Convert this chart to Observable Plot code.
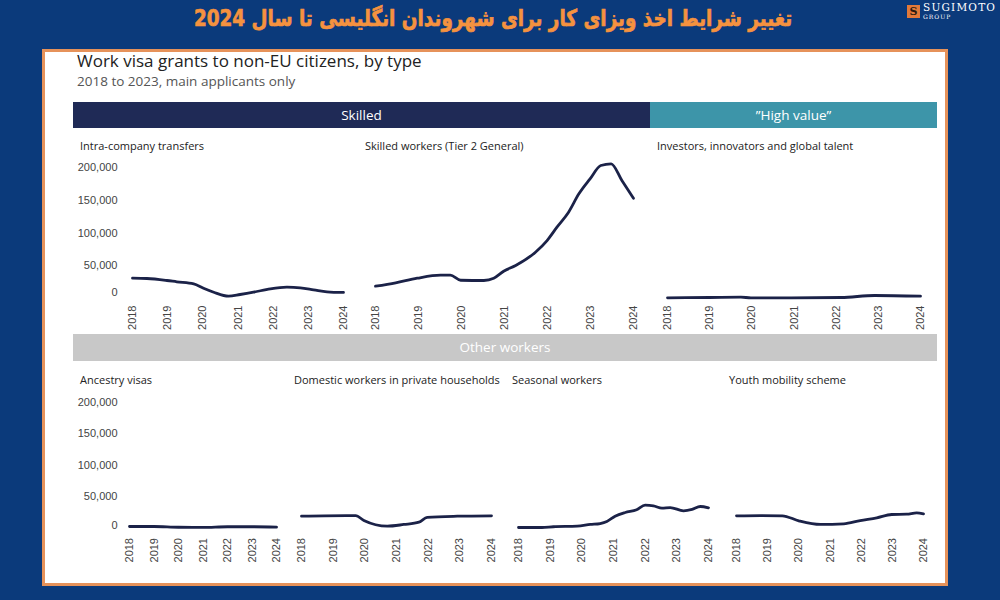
<!DOCTYPE html>
<html><head><meta charset="utf-8">
<script src="https://cdn.jsdelivr.net/npm/d3@7"></script>
<script src="https://cdn.jsdelivr.net/npm/@observablehq/plot@0.6"></script>
<style>
html,body{margin:0;padding:0;}
body{width:1000px;height:600px;background:#0b3a7b;position:relative;overflow:hidden;font-family:"Open Sans",sans-serif;}
.abs{position:absolute;white-space:nowrap;}
#fa-title{left:0;width:986px;top:5px;text-align:center;direction:rtl;font-family:"DejaVu Sans";font-weight:bold;font-size:23px;color:#f5923f;-webkit-text-stroke:0.7px #f5923f;transform:scaleX(0.80);transform-origin:493px 0;}
#logo-box{left:907px;top:5px;width:13px;height:13px;background:#e2793a;color:#2a1a10;font:bold 11px/13px "DejaVu Serif";text-align:center;}
#logo-name{left:923px;top:1px;font-family:"DejaVu Serif";font-size:10.5px;letter-spacing:1.2px;color:#fff;}
#logo-group{left:923px;top:13px;font-family:"DejaVu Serif";font-size:6px;letter-spacing:1px;color:#fff;}
#panel{left:42px;top:49px;width:906px;height:537px;box-sizing:border-box;background:#fff;border:3px solid #e6925a;}
#title{left:77px;top:49px;font-size:17px;color:#222;}
#subtitle{left:77px;top:72px;font-size:13.5px;color:#555;}
.bar{height:26px;line-height:26px;color:#fff;text-align:center;font-size:13.5px;}
.ptitle{font-size:11px;color:#222;}
</style></head><body>
<div id="fa-title" class="abs">تغییر شرایط اخذ ویزای کار برای شهروندان انگلیسی تا سال 2024</div>
<div id="logo-box" class="abs">S</div>
<div id="logo-name" class="abs">SUGIMOTO</div>
<div id="logo-group" class="abs">GROUP</div>
<div id="panel" class="abs"></div>
<div id="title" class="abs">Work visa grants to non-EU citizens, by type</div>
<div id="subtitle" class="abs">2018 to 2023, main applicants only</div>
<script>
// ---- data ----
const groupSkilled = "Skilled";
const groupHighValue = "”High value”";
const groupOther = "Other workers";

const yTicks = [0, 50000, 100000, 150000, 200000];
const yearTicks = [2018, 2019, 2020, 2021, 2022, 2023, 2024];

const ictTitle = "Intra-company transfers";
const ictYears = [2018.0, 2018.41, 2018.98, 2019.26, 2019.74, 2020.02, 2020.31, 2020.73, 2021.06, 2021.44, 2021.92, 2022.39, 2022.77, 2023.15, 2023.53, 2024.0];
const ictValues = [31000, 30500, 27500, 25500, 22400, 15700, 9600, 3500, 6100, 9600, 14800, 17300, 16300, 13300, 10200, 9200];

const skilledTitle = "Skilled workers (Tier 2 General)";
const skilledYears = [2018.0, 2018.47, 2018.97, 2019.51, 2019.74, 2019.98, 2020.52, 2020.75, 2020.98, 2021.26, 2021.72, 2021.99, 2022.22, 2022.49, 2022.73, 2022.99, 2023.24, 2023.48, 2023.73, 2024.0];
const skilledValues = [18800, 24000, 31000, 35600, 35600, 27900, 27500, 31000, 41700, 50400, 70700, 88500, 108900, 131800, 159800, 182700, 203000, 205600, 180200, 153100];

const investorsTitle = "Investors, innovators and global talent";
const investorsYears = [2018.0, 2019.0, 2019.74, 2019.98, 2020.93, 2022.12, 2022.91, 2024.0];
const investorsValues = [1000, 1500, 2000, 1000, 1000, 1500, 4600, 3500];

const ancestryTitle = "Ancestry visas";
const ancestryYears = [2018.0, 2019.0, 2020.0, 2021.0, 2022.0, 2023.0, 2024.0];
const ancestryValues = [2400, 2400, 1200, 1000, 2000, 2000, 1400];

const domesticTitle = "Domestic workers in private households";
const domesticYears = [2018.0, 2018.71, 2019.71, 2019.97, 2020.71, 2021.23, 2021.71, 2021.97, 2022.92, 2024.0];
const domesticValues = [18700, 19400, 19800, 11900, 2900, 5600, 9200, 16700, 18700, 19400];

const seasonalTitle = "Seasonal workers";
const seasonalYears = [2018.0, 2018.74, 2019.1, 2019.85, 2020.27, 2020.58, 2020.79, 2021.05, 2021.37, 2021.73, 2022.0, 2022.26, 2022.53, 2022.79, 2023.21, 2023.48, 2023.74, 2024.0];
const seasonalValues = [800, 800, 2000, 2900, 5600, 7100, 10300, 18700, 24600, 28900, 36200, 35200, 31400, 32500, 27300, 29400, 34100, 32100];

const youthTitle = "Youth mobility scheme";
const youthYears = [2018.0, 2018.78, 2019.47, 2020.0, 2020.69, 2021.44, 2021.97, 2022.5, 2022.98, 2023.46, 2023.78, 2024.0];
const youthValues = [19400, 19800, 19400, 11400, 5600, 6700, 11900, 16200, 21400, 21900, 24100, 22500];

// ---- layout ----
function addDiv(cls, text, style) {
  const d = document.createElement("div");
  d.className = "abs " + cls;
  d.textContent = text;
  Object.assign(d.style, style);
  document.body.appendChild(d);
  return d;
}

const rows = {
  top: {svgTop: 150, yTopPage: 167, yZeroPage: 298, padX: 7, zeroDy: -6, titleTop: 138},
  bottom: {svgTop: 385, yTopPage: 401.5, yZeroPage: 527.5, padX: 10, zeroDy: -2.5, titleTop: 372}
};

function panel(row, title, years, values, x0, x1, showY, titleLeft) {
  const r = rows[row];
  const left = showY ? 60 : x0 - 15;
  const marginLeft = x0 - left;
  const marginRight = 12;
  const marginTop = r.yTopPage - r.svgTop;
  const marginBottom = 40;
  const height = (r.yZeroPage - r.svgTop) + marginBottom;
  const width = x1 - left + marginRight;
  const data = years.map((y, i) => ({year: y, value: values[i]}));
  const marks = [
    Plot.axisX({ticks: yearTicks, tickFormat: d => String(d), tickRotate: -90, tickSize: 0, tickPadding: r.padX, label: null, fontSize: 11}),
    Plot.lineY(data, {x: "year", y: "value", stroke: "#1b2248", strokeWidth: 2.8, curve: "monotone-x"})
  ];
  if (showY) {
    marks.push(Plot.axisY({ticks: yTicks.filter(t => t > 0), tickFormat: d3.format(","), tickSize: 0, tickPadding: marginLeft - 57, label: null, fontSize: 11}));
    marks.push(Plot.axisY({ticks: [0], tickFormat: d3.format(","), tickSize: 0, tickPadding: marginLeft - 57, dy: r.zeroDy, label: null, fontSize: 11}));
  } else {
    marks.push(Plot.axisY({ticks: [], label: null}));
  }
  const svg = Plot.plot({
    width, height, marginLeft, marginRight, marginTop, marginBottom,
    style: {background: "none", fontFamily: "Liberation Sans", color: "#444", overflow: "visible"},
    x: {domain: [2018, 2024]},
    y: {domain: [0, 200000]},
    marks
  });
  svg.style.position = "absolute";
  svg.style.left = left + "px";
  svg.style.top = r.svgTop + "px";
  svg.style.maxWidth = "none";
  document.body.appendChild(svg);
  addDiv("ptitle", title, {left: titleLeft + "px", top: r.titleTop + "px"});
}

panel("top", ictTitle, ictYears, ictValues, 132, 343, true, 80);
panel("top", skilledTitle, skilledYears, skilledValues, 375, 633, false, 365);
panel("top", investorsTitle, investorsYears, investorsValues, 667, 920, false, 657);

panel("bottom", ancestryTitle, ancestryYears, ancestryValues, 129, 276, true, 80);
panel("bottom", domesticTitle, domesticYears, domesticValues, 301, 491, false, 294);
panel("bottom", seasonalTitle, seasonalYears, seasonalValues, 518, 708, false, 512);
panel("bottom", youthTitle, youthYears, youthValues, 736, 923, false, 729);

// group header bars
addDiv("bar", groupSkilled, {left: "73px", top: "102px", width: "577px", background: "#1f2a56"});
addDiv("bar", groupHighValue, {left: "650px", top: "102px", width: "287px", background: "#3d95a9"});
addDiv("bar", groupOther, {left: "73px", top: "334px", width: "864px", height: "27px", lineHeight: "27px", background: "#c8c8c8"});
</script>
</body></html>
